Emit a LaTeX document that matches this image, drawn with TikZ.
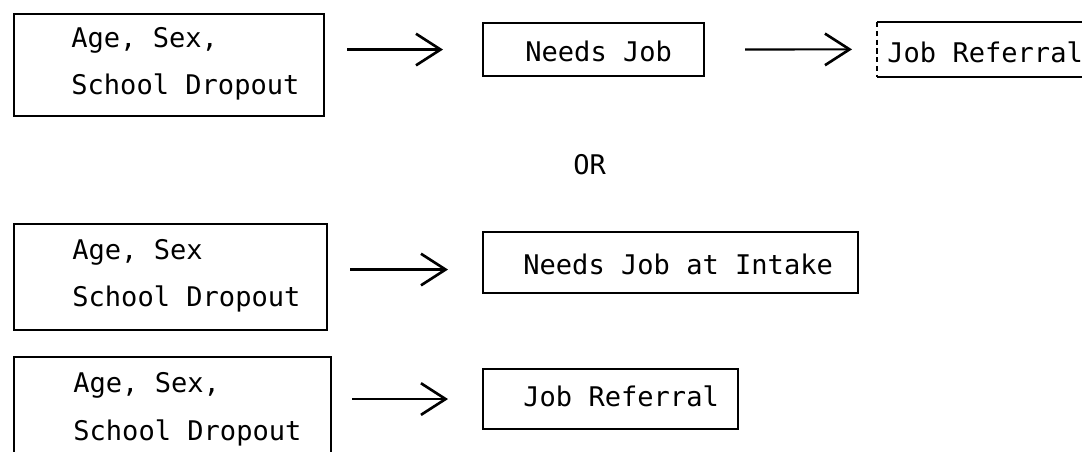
\documentclass[tikz,border=0pt]{standalone}
\usepackage{fontspec}
\usetikzlibrary{arrows.meta, positioning, calc}
\newfontfamily\typew{DejaVu Sans Mono}
\newcommand{\typefont}{\typew\fontsize{15.4pt}{27.3pt}\selectfont}

\tikzset{
  box/.style={draw, line width=1.2pt, inner sep=0pt, anchor=north west},
  openbox/.style={inner sep=0pt, anchor=north west},
  txt/.style={anchor=base west, inner sep=0pt, font=\typefont, align=left},
  flow/.style={line width=1.2pt, -{Straight Barb[length=14pt, width=18pt, line width=1.5pt]}}
}

\begin{document}
\begin{tikzpicture}
\useasboundingbox (0,0) rectangle (21.64,-9.04);

% First chain
\node[box, minimum width=6.2cm, minimum height=2.04cm] (ageA) at (0.26,-0.26) {};
\node[txt] (ageAtxt) at (1.42,-1.90) {Age, Sex,\\School Dropout};
\node[box, minimum width=4.42cm, minimum height=1.06cm] (needsA) at (9.64,-0.44) {};
\node[txt] (needsAtxt) at (10.5,-1.24) {Needs Job};
\node[openbox, minimum width=4.6cm, minimum height=1.08cm] (refA) at (17.54,-0.44) {};
\draw[line width=1.2pt] (refA.north west) -- (refA.north east);
\draw[line width=1.2pt] (refA.south west) -- (refA.south east);
\draw[densely dashed, line width=0.6pt] (refA.north west) -- (refA.south west);
\node[txt] (refAtxt) at (17.74,-1.26) {Job Referral};

\draw[flow, shorten <=0.44cm, shorten >=0.78cm] (ageA.east |- needsA.west) -- (needsA.west);
\draw[flow, shorten <=0.8cm, shorten >=0.5cm] (needsA.east) -- (refA.west);

% Alternative
\node[txt] (or) at (11.46,-3.5) {OR};

% Second chain
\node[box, minimum width=6.26cm, minimum height=2.12cm] (ageB) at (0.26,-4.46) {};
\node[txt] (ageBtxt) at (1.44,-6.14) {Age, Sex\\School Dropout};
\node[box, minimum width=7.5cm, minimum height=1.22cm] (needsB) at (9.64,-4.62) {};
\node[txt] (needsBtxt) at (10.46,-5.5) {Needs Job at Intake};

\draw[flow, shorten <=0.44cm, shorten >=0.68cm] ($(ageB.east |- needsB.west)+(0,-0.14)$) -- ($(needsB.west)+(0,-0.14)$);

% Third chain
\node[box, minimum width=6.34cm, minimum height=2.28cm] (ageC) at (0.26,-7.12) {};
\node[txt] (ageCtxt) at (1.46,-8.80) {Age, Sex,\\School Dropout};
\node[box, minimum width=5.1cm, minimum height=1.2cm] (refC) at (9.64,-7.36) {};
\node[txt] (refCtxt) at (10.46,-8.14) {Job Referral};

\draw[flow, shorten <=0.4cm, shorten >=0.68cm] (ageC.east |- refC.west) -- (refC.west);
\end{tikzpicture}
\end{document}
